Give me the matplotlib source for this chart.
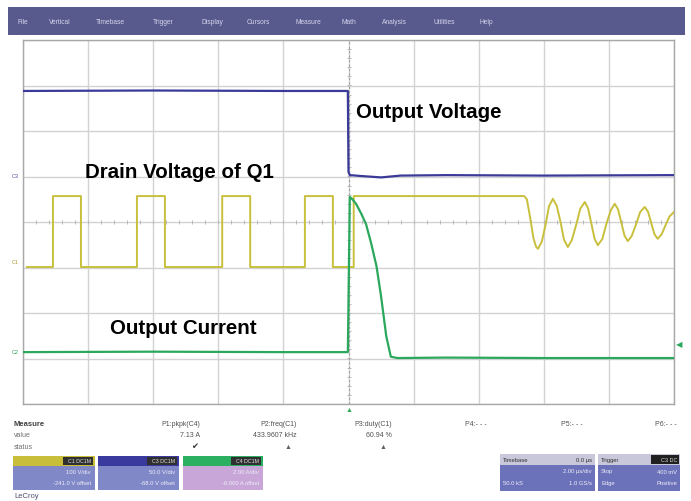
import numpy as np
import matplotlib
matplotlib.use('Agg')
import matplotlib.pyplot as plt
from matplotlib.patches import Rectangle

plt.rcParams['font.family'] = ['Liberation Sans', 'DejaVu Sans']

# ---- 数据 (单位: 格, x 0..10, y -4..4) ----
# 输出电压 (蓝)
vout_t = [0.0, 2.0, 4.0, 4.99, 5.0, 5.02, 5.2, 5.5, 5.8, 6.5, 8.0, 10.0]
vout_v = [2.88, 2.89, 2.88, 2.88, 1.10, 1.03, 1.01, 0.98, 1.02, 1.03, 1.02, 1.03]

# Q1 漏极电压 (黄)
drain_t = [0.06, 0.46, 0.46, 0.89, 0.89, 1.75, 1.75, 2.18, 2.18, 3.06, 3.06, 3.49, 3.49,
           4.33, 4.33, 4.76, 4.76, 5.08, 5.08, 7.70,
           7.74, 7.79, 7.84, 7.88, 7.91, 7.97, 8.03, 8.08, 8.14, 8.20, 8.26, 8.31,
           8.37, 8.43, 8.50, 8.56, 8.63, 8.68, 8.73, 8.78, 8.83, 8.90, 8.96, 9.03,
           9.09, 9.14, 9.19, 9.24, 9.29, 9.35, 9.42, 9.48, 9.55, 9.60, 9.65, 9.70,
           9.75, 9.81, 9.87, 9.93, 10.0]
drain_v = [-0.99, -0.99, 0.57, 0.57, -0.99, -0.99, 0.57, 0.57, -0.99, -0.99, 0.57, 0.57, -0.99,
           -0.99, 0.57, 0.57, -0.99, -0.99, 0.57, 0.57,
           0.50, 0.10, -0.35, -0.54, -0.59, -0.43, -0.04, 0.35, 0.51, 0.35, -0.02, -0.39,
           -0.55, -0.40, -0.05, 0.29, 0.44, 0.30, -0.03, -0.37, -0.51, -0.37, -0.05, 0.26,
           0.40, 0.28, -0.01, -0.30, -0.42, -0.31, -0.04, 0.22, 0.33, 0.23, -0.02, -0.27,
           -0.37, -0.27, -0.07, 0.12, 0.22]

# 输出电流 (绿)
iout_t = [0.0, 2.0, 4.0, 4.99, 5.02, 5.06, 5.12, 5.20, 5.27, 5.35, 5.43, 5.50, 5.58,
          5.65, 5.75, 6.5, 8.0, 10.0]
iout_v = [-2.86, -2.85, -2.86, -2.86, 0.55, 0.50, 0.39, 0.17, -0.05, -0.48, -0.97, -1.63, -2.51,
          -2.96, -2.99, -2.98, -2.99, -2.99]

labels = ['Output Voltage', 'Drain Voltage of Q1', 'Output Current']
menu_items = ['File', 'Vertical', 'Timebase', 'Trigger', 'Display', 'Cursors',
              'Measure', 'Math', 'Analysis', 'Utilities', 'Help']
param_names = ['P1:pkpk(C4)', 'P2:freq(C1)', 'P3:duty(C1)', 'P4:- - -', 'P5:- - -', 'P6:- - -']
param_values = ['7.13 A', '433.9607 kHz', '60.94 %', '', '', '']

W, H = 691, 502
fig = plt.figure(figsize=(W / 100, H / 100), dpi=100)
fig.patch.set_facecolor('white')


def fx(x):
    return x / W


def fy(y):
    return 1 - y / H


def box(x0, y0, x1, y1, color, **kw):
    fig.add_artist(Rectangle((fx(x0), fy(y1)), fx(x1) - fx(x0), fy(y0) - fy(y1),
                             transform=fig.transFigure, facecolor=color,
                             edgecolor=kw.pop('ec', 'none'), lw=kw.pop('lw', 0), **kw))


# 菜单栏
box(8, 8, 685, 36, '#585a8e')
menu_x = [18, 49, 96, 153, 202, 247, 296, 342, 382, 433, 480]
for x, s in zip(menu_x, menu_items):
    fig.text(fx(x), fy(22), s, color='#d4d4ea', fontsize=4.8, va='center')

# 示波器栅格
ax = fig.add_axes([fx(23), fy(405), fx(674) - fx(23), fy(41) - fy(405)])
ax.set_xlim(0, 10)
ax.set_ylim(-4, 4)
for i in range(11):
    ax.axvline(i, color='#d2d2d2', lw=1.0, zorder=1)
for j in range(-4, 5):
    ax.axhline(j, color='#d2d2d2', lw=1.0, zorder=1)
ticks = np.arange(0, 10.01, 0.2)
ax.plot(ticks, np.zeros_like(ticks), ls='none', marker='|', ms=3, color='#b8b8b8', mew=0.7)
ticks_y = np.arange(-4, 4.01, 0.2)
ax.plot(np.full_like(ticks_y, 5.0), ticks_y, ls='none', marker='_', ms=3, color='#b8b8b8', mew=0.7)
ax.axvline(5.0, color='#a0a0a0', lw=0.8, ls=(0, (2, 2)), zorder=1)
for s in ax.spines.values():
    s.set_color('#a8a8a8')
    s.set_linewidth(1.0)
ax.set_xticks([])
ax.set_yticks([])

ax.plot(vout_t, vout_v, color='#3a3a98', lw=1.6, zorder=4)
ax.plot(drain_t, drain_v, color='#c8c03c', lw=1.4, zorder=3)
ax.plot(iout_t, iout_v, color='#2aa85c', lw=1.6, zorder=5)

ax.text(5.12, 2.42, labels[0], fontsize=14.8, fontweight='bold', va='center', ha='left')
ax.text(0.95, 1.12, labels[1], fontsize=14.8, fontweight='bold', va='center', ha='left')
ax.text(1.33, -2.31, labels[2], fontsize=14.8, fontweight='bold', va='center', ha='left')

# 左侧通道标记
fig.text(fx(12), fy(177), 'C3', fontsize=4, color='#5050a0', va='center')
fig.text(fx(12), fy(263), 'C1', fontsize=4, color='#a8a030', va='center')
fig.text(fx(12), fy(352), 'C2', fontsize=4, color='#30a060', va='center')
fig.text(fx(676), fy(346), '\u25c0', fontsize=6, color='#2aa85c', va='center')
fig.text(fx(349), fy(411), '\u25b2', fontsize=5, color='#2aa85c', va='center', ha='center')

# 测量区
fig.text(fx(14), fy(424), 'Measure', fontsize=5.5, fontweight='bold', color='#404040', va='center')
fig.text(fx(14), fy(436), 'value', fontsize=5, color='#707070', va='center')
fig.text(fx(14), fy(448), 'status', fontsize=5, color='#707070', va='center')
name_x = [200, 297, 392, 487, 583, 677]
for x, n, v in zip(name_x, param_names, param_values):
    fig.text(fx(x), fy(424), n, fontsize=5, color='#505050', va='center', ha='right')
    if v:
        fig.text(fx(x), fy(436), v, fontsize=5, color='#505050', va='center', ha='right')
fig.text(fx(195), fy(448), '\u2714', fontsize=6, color='#303030', va='center', ha='center')
fig.text(fx(288), fy(448), '\u25b2', fontsize=5, color='#606060', va='center', ha='center')
fig.text(fx(383), fy(448), '\u25b2', fontsize=5, color='#606060', va='center', ha='center')

# 通道信息框
chan = [(13, 95, '#c8be3a', '#8088c8', 'C1', ['100 V/div', '-241.0 V offset']),
        (98, 179, '#3a3a9e', '#8088c8', 'C3', ['50.0 V/div', '-68.0 V offset']),
        (183, 263, '#2ab060', '#c8a6d8', 'C4', ['2.00 A/div', '-6.000 A offset'])]
for x0, x1, hc, bc, tag, lines in chan:
    box(x0, 457, x1, 491, bc)
    box(x0, 457, x1, 467, hc)
    box(x1 - 32, 458, x1 - 2, 466, '#303030')
    fig.text(fx(x1 - 4), fy(462), tag + ' DC1M', fontsize=3.8, color='#e0e0e0', va='center', ha='right')
    fig.text(fx(x1 - 4), fy(473), lines[0], fontsize=4.2, color='#eeeef8', va='center', ha='right')
    fig.text(fx(x1 - 4), fy(484), lines[1], fontsize=4.2, color='#eeeef8', va='center', ha='right')

# 时基 / 触发
box(500, 455, 595, 492, '#6c72ba')
box(500, 455, 595, 466, '#c8c8da')
fig.text(fx(503), fy(460.5), 'Timebase', fontsize=4.2, color='#303030', va='center')
fig.text(fx(592), fy(460.5), '0.0 \u00b5s', fontsize=4.2, color='#303030', va='center', ha='right')
fig.text(fx(592), fy(472), '2.00 \u00b5s/div', fontsize=4.2, color='#eeeef8', va='center', ha='right')
fig.text(fx(503), fy(484), '50.0 kS', fontsize=4.2, color='#eeeef8', va='center')
fig.text(fx(592), fy(484), '1.0 GS/s', fontsize=4.2, color='#eeeef8', va='center', ha='right')

box(598, 455, 680, 492, '#6c72ba')
box(598, 455, 680, 466, '#c8c8da')
box(651, 456, 679, 465, '#202020')
fig.text(fx(601), fy(460.5), 'Trigger', fontsize=4.2, color='#303030', va='center')
fig.text(fx(677), fy(460.5), 'C3 DC', fontsize=4.0, color='#e0e0e0', va='center', ha='right')
fig.text(fx(601), fy(472), 'Stop', fontsize=4.2, color='#eeeef8', va='center')
fig.text(fx(677), fy(472), '400 mV', fontsize=4.2, color='#eeeef8', va='center', ha='right')
fig.text(fx(601), fy(484), 'Edge', fontsize=4.2, color='#eeeef8', va='center')
fig.text(fx(677), fy(484), 'Positive', fontsize=4.2, color='#eeeef8', va='center', ha='right')

fig.text(fx(14), fy(497), 'LeCroy', fontsize=5.5, color='#505070', va='center')

fig.savefig('out.png', dpi=100)
